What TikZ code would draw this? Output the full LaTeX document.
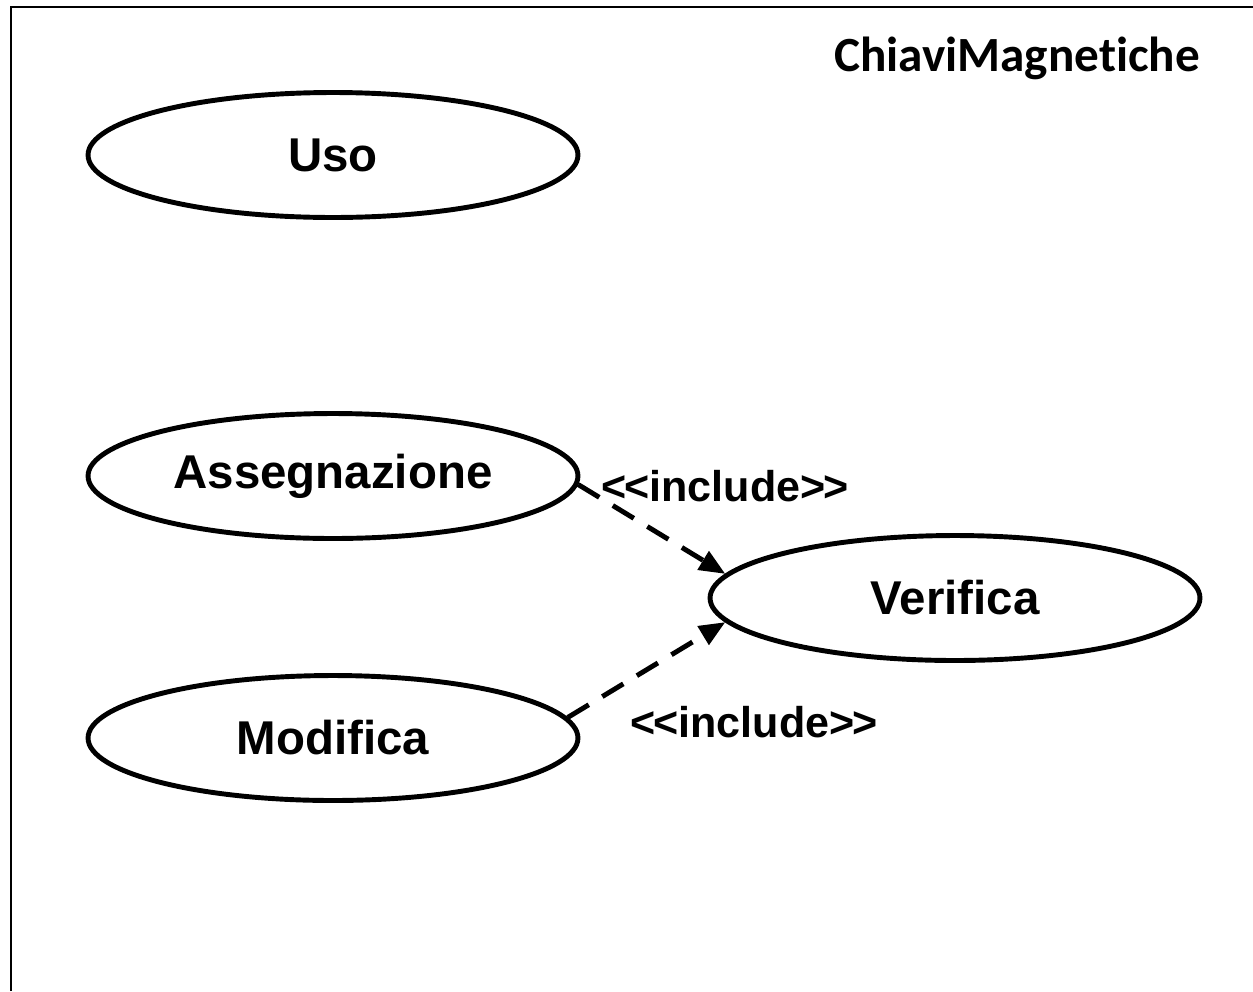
\documentclass[tikz,border=0pt]{standalone}
\usepackage{fontspec}
\setmainfont{Liberation Sans}
\newfontfamily\titlefont{Carlito}[Ligatures=NoCommon]
\usetikzlibrary{shapes.geometric,arrows.meta}

\newcommand{\inclabel}{<\kern-0.04em<include>\kern-0.04em>}

\begin{document}
\begin{tikzpicture}[x=0.02cm, y=-0.02cm,
        usecase/.style = {draw, ellipse, line width=2.8pt, minimum width=9.8cm, minimum height=2.5cm, inner sep=0pt, font=\fontsize{27}{32}\selectfont\bfseries},
        incl/.style = {font=\fontsize{24.5}{30}\selectfont\bfseries, inner sep=0pt},
        dep/.style = {line width=2.8pt, dash pattern=on 14pt off 9pt, -{Triangle[length=0.52cm, width=0.42cm]}}]
        \useasboundingbox (0,0) rectangle (1253,991);
        \draw[line width=1.1pt] (11,991) -- (11,7) -- (1253,7);
        \node[font=\titlefont\fontsize{28}{33}\selectfont\bfseries] (sys) at (1017,58) {ChiaviMagnetiche};
        \node[usecase] (uso) at (333,155) {Uso};
        \node[usecase] (ass) at (333,476) {Assegnazione};
        \node[usecase] (mod) at (333,738) {Modifica};
        \node[usecase] (ver) at (955,598) {Verifica};
        \node[incl] (inc1) at (725,486) {\inclabel};
        \node[incl] (inc2) at (754,722) {\inclabel};
        \draw[dep] (ass.-2) -- (ver.174);
        \draw[dep] (mod.5) -- (ver.186);
    \end{tikzpicture}
\end{document}
